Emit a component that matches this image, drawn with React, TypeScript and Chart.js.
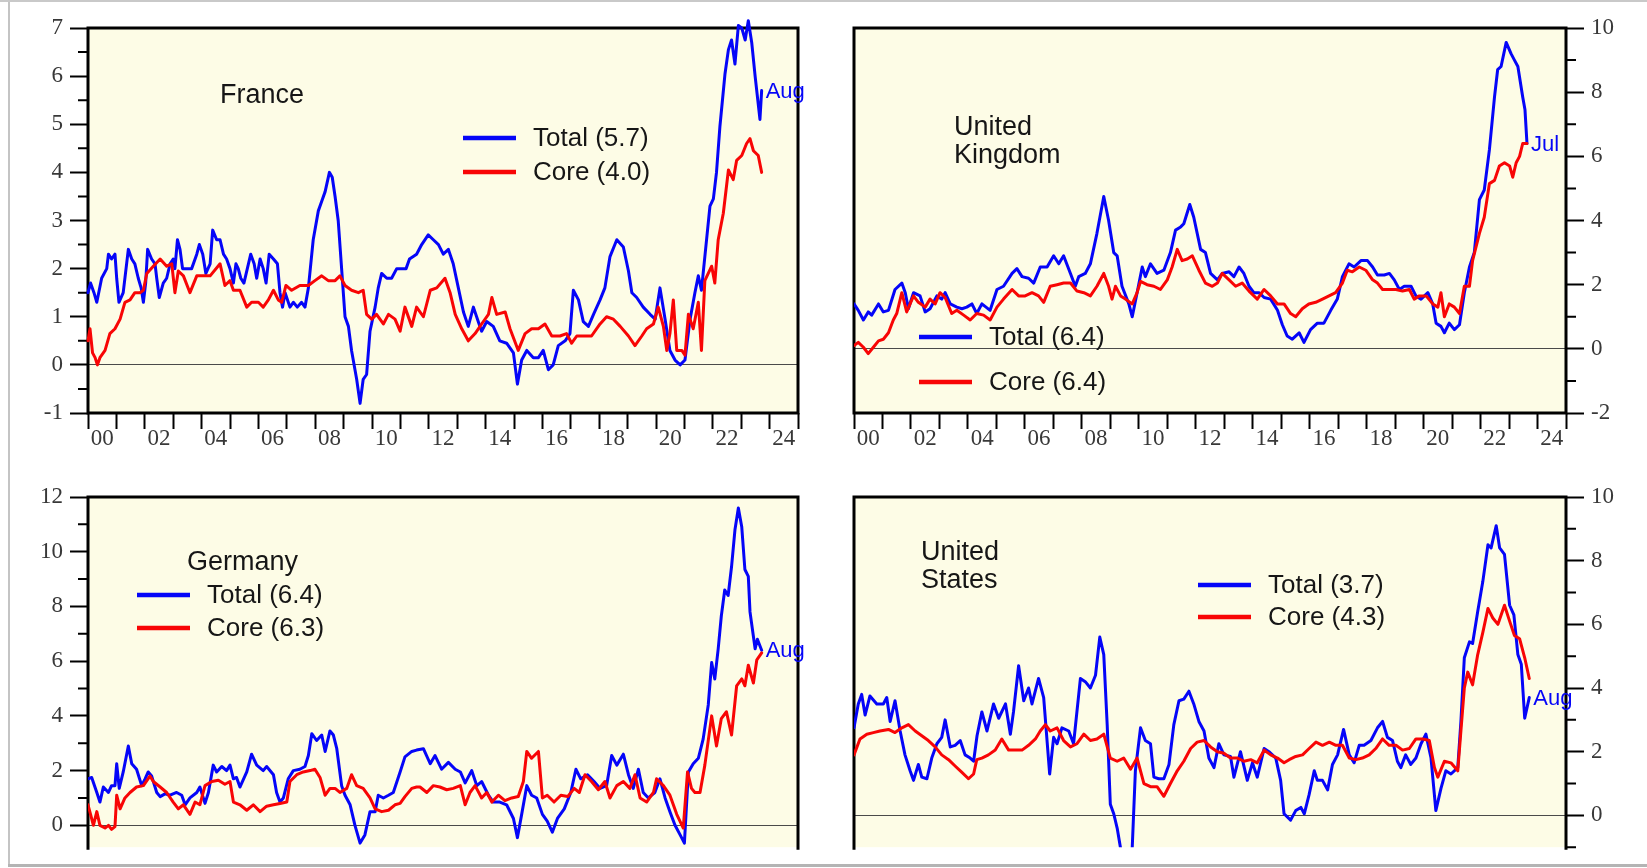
import { useEffect, useRef } from 'react';
import { Chart, registerables } from 'chart.js';

Chart.register(...registerables);

type Pt = [number, number];

// Year-start tick marks; even years carry a two-digit label
const YEAR_TICKS = [
  2000, 2001, 2002, 2003, 2004, 2005, 2006, 2007, 2008, 2009, 2010, 2011, 2012,
  2013, 2014, 2015, 2016, 2017, 2018, 2019, 2020, 2021, 2022, 2023, 2024, 2025,
];

const FR_Y_TICKS = [-1, 0, 1, 2, 3, 4, 5, 6, 7];
const FR_Y_MINOR = [-0.5, 0.5, 1.5, 2.5, 3.5, 4.5, 5.5, 6.5];
const UK_Y_TICKS = [-2, 0, 2, 4, 6, 8, 10];
const UK_Y_MINOR = [-1, 1, 3, 5, 7, 9];
const DE_Y_TICKS = [0, 2, 4, 6, 8, 10, 12];
const DE_Y_MINOR = [1, 3, 5, 7, 9, 11];
const US_Y_TICKS = [0, 2, 4, 6, 8, 10];
const US_Y_MINOR = [-1, 1, 3, 5, 7, 9];

// France, % y/y
const FR_TOTAL: Pt[] = [
  [2000.0, 1.5], [2000.09, 1.7], [2000.21, 1.5], [2000.31, 1.3], [2000.48, 1.8], [2000.66, 2.0], [2000.72, 2.3], [2000.83, 2.2],
  [2000.95, 2.3], [2001.01, 1.8], [2001.09, 1.3], [2001.24, 1.5], [2001.42, 2.4], [2001.54, 2.2], [2001.65, 2.1], [2001.77, 1.8],
  [2001.87, 1.6], [2001.95, 1.3], [2002.03, 1.7], [2002.1, 2.4], [2002.24, 2.2], [2002.36, 2.1], [2002.42, 1.8], [2002.51, 1.4],
  [2002.65, 1.7], [2002.77, 1.8], [2002.89, 2.1], [2003.0, 2.2], [2003.06, 2.0], [2003.15, 2.6], [2003.24, 2.4], [2003.33, 2.0],
  [2003.47, 2.0], [2003.65, 2.0], [2003.83, 2.3], [2003.92, 2.5], [2004.04, 2.3], [2004.15, 1.9], [2004.3, 2.1], [2004.39, 2.8],
  [2004.53, 2.6], [2004.65, 2.6], [2004.77, 2.3], [2004.88, 2.2], [2005.0, 2.0], [2005.12, 1.7], [2005.21, 2.1], [2005.29, 2.0],
  [2005.38, 1.8], [2005.49, 1.7], [2005.61, 2.0], [2005.73, 2.3], [2005.85, 2.1], [2005.94, 1.8], [2006.06, 2.2], [2006.17, 2.0],
  [2006.27, 1.7], [2006.38, 2.3], [2006.53, 2.2], [2006.67, 2.1], [2006.76, 1.5], [2006.85, 1.2], [2006.94, 1.5], [2007.11, 1.2],
  [2007.23, 1.3], [2007.37, 1.2], [2007.52, 1.3], [2007.64, 1.2], [2007.76, 1.6], [2007.93, 2.6], [2008.11, 3.2], [2008.23, 3.4],
  [2008.35, 3.6], [2008.5, 4.0], [2008.6, 3.9], [2008.7, 3.5], [2008.81, 3.0], [2008.93, 2.0], [2009.05, 1.0], [2009.17, 0.8],
  [2009.28, 0.3], [2009.46, -0.3], [2009.58, -0.8], [2009.69, -0.3], [2009.81, -0.2], [2009.93, 0.7], [2010.11, 1.2], [2010.22, 1.6],
  [2010.34, 1.9], [2010.52, 1.8], [2010.69, 1.8], [2010.87, 2.0], [2011.0, 2.0], [2011.2, 2.0], [2011.32, 2.2], [2011.57, 2.3],
  [2011.75, 2.5], [2011.98, 2.7], [2012.16, 2.6], [2012.34, 2.5], [2012.51, 2.3], [2012.69, 2.4], [2012.86, 2.1], [2013.04, 1.6],
  [2013.22, 1.1], [2013.39, 0.8], [2013.57, 1.2], [2013.74, 0.9], [2013.86, 0.7], [2014.04, 0.9], [2014.27, 0.8], [2014.5, 0.5],
  [2014.74, 0.45], [2014.98, 0.25], [2015.12, -0.4], [2015.27, 0.1], [2015.45, 0.3], [2015.68, 0.15], [2015.86, 0.15], [2016.03, 0.3],
  [2016.21, -0.1], [2016.38, 0.0], [2016.56, 0.4], [2016.8, 0.5], [2016.97, 0.65], [2017.09, 1.55], [2017.27, 1.35], [2017.44, 0.9],
  [2017.62, 0.8], [2017.8, 1.05], [2018.03, 1.35], [2018.2, 1.6], [2018.38, 2.25], [2018.62, 2.6], [2018.85, 2.45], [2019.03, 1.95],
  [2019.15, 1.5], [2019.32, 1.4], [2019.55, 1.2], [2019.79, 1.05], [2019.97, 0.95], [2020.14, 1.6], [2020.32, 0.95], [2020.49, 0.3],
  [2020.67, 0.1], [2020.85, 0.0], [2021.02, 0.1], [2021.2, 0.95], [2021.37, 1.5], [2021.49, 1.85], [2021.6, 1.55], [2021.72, 2.25],
  [2021.9, 3.3], [2022.02, 3.45], [2022.13, 4.0], [2022.25, 4.95], [2022.43, 6.05], [2022.55, 6.55], [2022.66, 6.75], [2022.78, 6.25],
  [2022.9, 7.05], [2023.02, 7.0], [2023.14, 6.75], [2023.25, 7.15], [2023.37, 6.7], [2023.49, 6.0], [2023.66, 5.1], [2023.72, 5.7],
];
const FR_CORE: Pt[] = [
  [2000.0, 0.5], [2000.07, 0.75], [2000.16, 0.25], [2000.25, 0.15], [2000.33, 0.0], [2000.42, 0.15], [2000.6, 0.3], [2000.77, 0.65],
  [2000.95, 0.75], [2001.13, 0.95], [2001.3, 1.3], [2001.48, 1.35], [2001.65, 1.5], [2001.83, 1.5], [2001.95, 1.55], [2002.07, 1.9],
  [2002.3, 2.05], [2002.54, 2.2], [2002.77, 2.05], [2002.95, 2.1], [2003.06, 1.5], [2003.18, 1.95], [2003.36, 1.85], [2003.59, 1.5],
  [2003.83, 1.85], [2004.06, 1.85], [2004.3, 1.85], [2004.65, 2.1], [2004.82, 1.65], [2005.0, 1.75], [2005.12, 1.55], [2005.35, 1.55],
  [2005.59, 1.2], [2005.76, 1.3], [2006.0, 1.3], [2006.17, 1.2], [2006.35, 1.35], [2006.53, 1.55], [2006.7, 1.35], [2006.82, 1.3],
  [2006.97, 1.65], [2007.17, 1.55], [2007.46, 1.65], [2007.76, 1.65], [2007.99, 1.75], [2008.23, 1.85], [2008.46, 1.75], [2008.7, 1.75],
  [2008.87, 1.85], [2009.05, 1.65], [2009.28, 1.55], [2009.52, 1.5], [2009.69, 1.55], [2009.81, 1.05], [2009.99, 0.95], [2010.16, 1.05],
  [2010.4, 0.85], [2010.58, 1.05], [2010.81, 0.95], [2010.99, 0.7], [2011.16, 1.2], [2011.4, 0.8], [2011.57, 1.2], [2011.81, 1.0],
  [2012.05, 1.55], [2012.28, 1.6], [2012.57, 1.8], [2012.75, 1.5], [2012.93, 1.05], [2013.16, 0.75], [2013.39, 0.5], [2013.63, 0.65],
  [2013.86, 0.85], [2014.1, 1.05], [2014.22, 1.4], [2014.39, 1.05], [2014.69, 1.1], [2014.86, 0.75], [2015.15, 0.3], [2015.39, 0.65],
  [2015.62, 0.75], [2015.86, 0.75], [2016.09, 0.85], [2016.33, 0.6], [2016.62, 0.6], [2016.85, 0.65], [2017.03, 0.45], [2017.21, 0.6],
  [2017.44, 0.6], [2017.73, 0.6], [2018.03, 0.85], [2018.26, 1.0], [2018.5, 0.95], [2018.74, 0.8], [2019.03, 0.6], [2019.26, 0.4],
  [2019.5, 0.6], [2019.67, 0.75], [2019.91, 0.85], [2020.08, 1.2], [2020.26, 0.8], [2020.38, 0.3], [2020.49, 0.65], [2020.61, 1.35],
  [2020.73, 0.3], [2020.91, 0.3], [2021.02, 0.2], [2021.14, 1.05], [2021.31, 0.75], [2021.49, 1.3], [2021.6, 0.3], [2021.72, 1.75],
  [2021.96, 2.05], [2022.07, 1.7], [2022.19, 2.6], [2022.37, 3.15], [2022.55, 4.05], [2022.72, 3.85], [2022.84, 4.25], [2023.02, 4.35],
  [2023.19, 4.6], [2023.31, 4.7], [2023.43, 4.45], [2023.6, 4.35], [2023.72, 4.0],
];

// United Kingdom, % y/y
const UK_TOTAL: Pt[] = [
  [2000.0, 1.4], [2000.15, 1.2], [2000.33, 0.9], [2000.5, 1.15], [2000.62, 1.05], [2000.86, 1.4], [2001.03, 1.15], [2001.21, 1.2],
  [2001.44, 1.85], [2001.68, 2.05], [2001.8, 1.75], [2001.91, 1.25], [2002.09, 1.75], [2002.32, 1.65], [2002.5, 1.15], [2002.67, 1.25],
  [2002.91, 1.65], [2003.08, 1.55], [2003.2, 1.75], [2003.38, 1.4], [2003.61, 1.3], [2003.79, 1.25], [2003.96, 1.3], [2004.14, 1.4],
  [2004.31, 1.1], [2004.49, 1.4], [2004.78, 1.2], [2005.02, 1.85], [2005.25, 1.95], [2005.55, 2.35], [2005.72, 2.5], [2005.9, 2.25],
  [2006.13, 2.2], [2006.31, 2.05], [2006.54, 2.55], [2006.78, 2.55], [2007.01, 2.9], [2007.19, 2.65], [2007.36, 2.9], [2007.6, 2.35],
  [2007.77, 1.95], [2007.89, 2.25], [2008.12, 2.35], [2008.3, 2.65], [2008.53, 3.6], [2008.77, 4.75], [2008.94, 4.0], [2009.12, 3.0],
  [2009.24, 2.9], [2009.41, 1.95], [2009.65, 1.4], [2009.77, 1.0], [2009.94, 1.75], [2010.12, 2.55], [2010.23, 2.25], [2010.41, 2.65],
  [2010.64, 2.35], [2010.88, 2.45], [2011.11, 3.0], [2011.29, 3.7], [2011.47, 3.8], [2011.58, 3.9], [2011.79, 4.5], [2011.93, 4.1],
  [2012.17, 3.1], [2012.34, 3.0], [2012.52, 2.35], [2012.76, 2.15], [2012.93, 2.35], [2013.17, 2.4], [2013.34, 2.25], [2013.52, 2.55],
  [2013.69, 2.35], [2013.87, 1.95], [2014.04, 1.75], [2014.22, 1.75], [2014.4, 1.6], [2014.63, 1.55], [2014.87, 1.2], [2015.04, 0.75],
  [2015.21, 0.4], [2015.39, 0.3], [2015.63, 0.5], [2015.8, 0.2], [2016.03, 0.6], [2016.27, 0.8], [2016.5, 0.8], [2016.74, 1.2],
  [2016.97, 1.55], [2017.15, 2.25], [2017.38, 2.65], [2017.56, 2.55], [2017.8, 2.75], [2018.03, 2.75], [2018.21, 2.55], [2018.38, 2.3],
  [2018.62, 2.3], [2018.8, 2.35], [2018.97, 2.15], [2019.15, 1.85], [2019.32, 1.95], [2019.56, 1.95], [2019.73, 1.65], [2019.91, 1.55],
  [2020.15, 1.75], [2020.32, 1.4], [2020.44, 0.8], [2020.61, 0.7], [2020.73, 0.5], [2020.9, 0.8], [2021.08, 0.6], [2021.26, 0.75],
  [2021.43, 1.75], [2021.61, 2.55], [2021.78, 3.0], [2021.96, 4.65], [2022.13, 4.95], [2022.31, 6.2], [2022.49, 7.85], [2022.6, 8.7],
  [2022.72, 8.8], [2022.9, 9.55], [2023.07, 9.2], [2023.19, 9.0], [2023.31, 8.8], [2023.48, 7.85], [2023.56, 7.45], [2023.63, 6.4],
];
const UK_CORE: Pt[] = [
  [2000.0, 0.1], [2000.15, 0.2], [2000.33, 0.05], [2000.5, -0.15], [2000.68, 0.05], [2000.86, 0.25], [2001.03, 0.3], [2001.21, 0.5],
  [2001.38, 0.9], [2001.5, 1.1], [2001.68, 1.75], [2001.85, 1.15], [2002.09, 1.65], [2002.26, 1.45], [2002.5, 1.3], [2002.67, 1.55],
  [2002.85, 1.4], [2003.02, 1.75], [2003.2, 1.6], [2003.43, 1.1], [2003.61, 1.2], [2003.85, 1.05], [2004.08, 0.9], [2004.31, 1.1],
  [2004.55, 1.05], [2004.78, 0.9], [2005.02, 1.3], [2005.25, 1.55], [2005.55, 1.85], [2005.78, 1.65], [2006.01, 1.65], [2006.25, 1.75],
  [2006.48, 1.65], [2006.66, 1.45], [2006.89, 1.95], [2007.13, 2.0], [2007.36, 2.05], [2007.6, 2.05], [2007.83, 1.8], [2008.07, 1.75],
  [2008.3, 1.65], [2008.53, 1.95], [2008.77, 2.35], [2008.94, 1.95], [2009.06, 1.55], [2009.18, 1.95], [2009.36, 1.65], [2009.53, 1.55],
  [2009.77, 1.4], [2009.94, 1.75], [2010.06, 2.1], [2010.29, 2.0], [2010.53, 1.95], [2010.76, 1.85], [2011.0, 2.15], [2011.17, 2.55],
  [2011.35, 3.1], [2011.52, 2.75], [2011.7, 2.8], [2011.88, 2.9], [2012.11, 2.45], [2012.34, 2.05], [2012.58, 1.95], [2012.76, 2.05],
  [2012.93, 2.35], [2013.17, 2.15], [2013.4, 1.95], [2013.63, 2.05], [2013.87, 1.8], [2014.16, 1.55], [2014.4, 1.85], [2014.63, 1.65],
  [2014.87, 1.4], [2015.1, 1.4], [2015.33, 1.1], [2015.51, 1.0], [2015.74, 1.25], [2015.97, 1.4], [2016.21, 1.45], [2016.45, 1.55],
  [2016.68, 1.65], [2016.91, 1.75], [2017.15, 2.05], [2017.32, 2.45], [2017.5, 2.4], [2017.74, 2.55], [2017.97, 2.45], [2018.21, 2.15],
  [2018.38, 2.05], [2018.56, 1.85], [2018.8, 1.85], [2019.03, 1.85], [2019.26, 1.8], [2019.5, 1.85], [2019.67, 1.55], [2019.85, 1.65],
  [2020.09, 1.65], [2020.32, 1.4], [2020.5, 1.3], [2020.61, 1.75], [2020.73, 1.0], [2020.9, 1.4], [2021.08, 1.3], [2021.26, 1.1],
  [2021.43, 1.95], [2021.61, 1.95], [2021.72, 2.75], [2021.96, 3.6], [2022.13, 4.1], [2022.31, 5.15], [2022.49, 5.25], [2022.66, 5.7],
  [2022.84, 5.8], [2023.02, 5.7], [2023.13, 5.35], [2023.25, 5.8], [2023.37, 6.0], [2023.48, 6.4], [2023.63, 6.4],
];

// Germany, % y/y
const DE_TOTAL: Pt[] = [
  [2000.0, 1.7], [2000.13, 1.75], [2000.31, 1.2], [2000.42, 0.85], [2000.54, 1.4], [2000.72, 1.2], [2000.83, 1.45], [2000.95, 1.45],
  [2001.01, 2.25], [2001.1, 1.35], [2001.24, 1.95], [2001.42, 2.9], [2001.54, 2.25], [2001.71, 2.05], [2001.89, 1.45], [2002.01, 1.7],
  [2002.12, 1.95], [2002.24, 1.8], [2002.42, 1.2], [2002.54, 1.05], [2002.71, 1.15], [2002.89, 1.1], [2003.12, 1.2], [2003.3, 1.1],
  [2003.42, 0.75], [2003.59, 1.0], [2003.83, 1.2], [2003.94, 1.4], [2004.12, 0.8], [2004.24, 1.2], [2004.41, 2.2], [2004.53, 1.95],
  [2004.71, 2.15], [2004.88, 2.0], [2005.0, 2.2], [2005.12, 1.7], [2005.23, 1.75], [2005.35, 1.4], [2005.59, 1.95], [2005.76, 2.6],
  [2005.94, 2.2], [2006.17, 2.0], [2006.29, 2.15], [2006.53, 1.85], [2006.64, 1.2], [2006.76, 0.85], [2006.88, 1.0], [2007.05, 1.7],
  [2007.23, 2.0], [2007.46, 2.05], [2007.64, 2.15], [2007.76, 2.55], [2007.88, 3.35], [2008.05, 3.1], [2008.23, 3.3], [2008.35, 2.7],
  [2008.52, 3.45], [2008.64, 3.3], [2008.76, 2.8], [2008.93, 1.45], [2009.05, 1.1], [2009.23, 0.75], [2009.4, 0.0], [2009.58, -0.65],
  [2009.75, -0.35], [2009.93, 0.5], [2010.11, 0.5], [2010.22, 1.1], [2010.4, 1.0], [2010.58, 1.1], [2010.75, 1.2], [2010.99, 1.95],
  [2011.16, 2.5], [2011.4, 2.7], [2011.57, 2.75], [2011.81, 2.8], [2012.05, 2.25], [2012.22, 2.55], [2012.45, 2.05], [2012.69, 2.3],
  [2012.93, 2.05], [2013.11, 1.95], [2013.28, 1.55], [2013.51, 2.0], [2013.69, 1.45], [2013.86, 1.6], [2014.1, 1.1], [2014.27, 0.85],
  [2014.5, 0.85], [2014.74, 0.75], [2014.98, 0.25], [2015.12, -0.45], [2015.27, 0.4], [2015.45, 1.45], [2015.62, 1.1], [2015.8, 1.0],
  [2016.0, 0.4], [2016.17, 0.15], [2016.35, -0.25], [2016.53, 0.25], [2016.77, 0.6], [2017.0, 1.2], [2017.18, 2.05], [2017.35, 1.7],
  [2017.59, 1.85], [2017.82, 1.6], [2018.03, 1.35], [2018.26, 1.45], [2018.44, 2.55], [2018.62, 2.2], [2018.85, 2.6], [2019.03, 1.85],
  [2019.2, 1.35], [2019.38, 2.05], [2019.55, 1.2], [2019.73, 1.0], [2019.96, 1.2], [2020.14, 1.7], [2020.32, 1.0], [2020.49, 0.5],
  [2020.67, 0.0], [2020.85, -0.35], [2021.0, -0.65], [2021.14, 1.95], [2021.31, 2.25], [2021.49, 2.45], [2021.66, 3.15], [2021.84, 4.4],
  [2021.96, 5.95], [2022.07, 5.35], [2022.19, 6.45], [2022.3, 7.65], [2022.42, 8.6], [2022.54, 8.4], [2022.66, 9.45], [2022.78, 10.8],
  [2022.9, 11.6], [2023.02, 10.9], [2023.13, 9.35], [2023.25, 9.1], [2023.31, 7.8], [2023.43, 6.9], [2023.49, 6.45], [2023.57, 6.8],
  [2023.72, 6.4],
];
const DE_CORE: Pt[] = [
  [2000.0, 0.75], [2000.09, 0.4], [2000.19, 0.0], [2000.31, 0.5], [2000.42, 0.0], [2000.6, -0.1], [2000.72, 0.0], [2000.83, -0.15],
  [2000.95, -0.05], [2001.01, 1.1], [2001.13, 0.6], [2001.3, 1.0], [2001.48, 1.2], [2001.71, 1.4], [2001.95, 1.45], [2002.18, 1.8],
  [2002.3, 1.6], [2002.54, 1.4], [2002.77, 1.2], [2003.0, 0.85], [2003.18, 0.6], [2003.36, 0.75], [2003.59, 0.4], [2003.77, 0.85],
  [2003.94, 0.75], [2004.12, 1.45], [2004.36, 1.6], [2004.59, 1.65], [2004.82, 1.5], [2005.0, 1.6], [2005.12, 0.85], [2005.35, 0.75],
  [2005.59, 0.55], [2005.82, 0.75], [2006.06, 0.5], [2006.29, 0.7], [2006.53, 0.75], [2006.76, 0.8], [2007.0, 0.85], [2007.11, 1.6],
  [2007.35, 1.85], [2007.58, 1.95], [2007.82, 2.0], [2007.99, 2.05], [2008.17, 1.75], [2008.35, 1.1], [2008.52, 1.35], [2008.7, 1.35],
  [2008.87, 1.2], [2009.11, 1.35], [2009.28, 1.85], [2009.46, 1.45], [2009.69, 1.35], [2009.93, 1.0], [2010.11, 0.6], [2010.34, 0.5],
  [2010.58, 0.55], [2010.81, 0.75], [2010.99, 0.8], [2011.16, 1.05], [2011.4, 1.35], [2011.57, 1.4], [2011.69, 1.4], [2011.93, 1.2],
  [2012.16, 1.45], [2012.39, 1.4], [2012.63, 1.3], [2012.86, 1.35], [2013.11, 1.45], [2013.28, 0.75], [2013.45, 1.2], [2013.63, 1.45],
  [2013.86, 1.0], [2014.04, 1.2], [2014.22, 0.85], [2014.45, 1.1], [2014.68, 0.9], [2014.92, 1.0], [2015.15, 1.05], [2015.33, 1.6],
  [2015.45, 2.7], [2015.62, 2.45], [2015.86, 2.7], [2016.0, 1.0], [2016.17, 1.1], [2016.41, 0.85], [2016.65, 1.1], [2016.89, 1.05],
  [2017.12, 1.35], [2017.3, 1.2], [2017.5, 1.85], [2017.73, 1.6], [2017.97, 1.3], [2018.2, 1.6], [2018.38, 1.0], [2018.62, 1.45],
  [2018.85, 1.6], [2019.08, 1.35], [2019.26, 1.85], [2019.44, 1.0], [2019.67, 0.85], [2019.91, 1.2], [2020.02, 1.7], [2020.26, 1.45],
  [2020.49, 1.1], [2020.73, 0.4], [2020.96, -0.1], [2021.11, 1.95], [2021.25, 1.35], [2021.37, 1.2], [2021.55, 1.2], [2021.72, 2.2],
  [2021.96, 4.0], [2022.13, 2.9], [2022.3, 3.9], [2022.48, 4.15], [2022.66, 3.3], [2022.84, 5.1], [2023.02, 5.35], [2023.13, 5.1],
  [2023.25, 5.85], [2023.43, 5.2], [2023.55, 6.05], [2023.72, 6.3],
];

// United States, % y/y
const US_TOTAL: Pt[] = [
  [2000.0, 2.75], [2000.15, 3.5], [2000.27, 3.8], [2000.39, 3.15], [2000.56, 3.75], [2000.8, 3.5], [2001.03, 3.5], [2001.15, 3.7],
  [2001.27, 2.95], [2001.44, 3.6], [2001.62, 2.65], [2001.79, 1.9], [2001.97, 1.4], [2002.09, 1.1], [2002.26, 1.6], [2002.38, 1.2],
  [2002.56, 1.15], [2002.73, 1.8], [2002.91, 2.25], [2003.08, 2.45], [2003.2, 3.0], [2003.38, 2.15], [2003.55, 2.2], [2003.73, 2.35],
  [2003.9, 1.9], [2004.08, 1.8], [2004.2, 1.7], [2004.32, 2.5], [2004.49, 3.25], [2004.67, 2.65], [2004.9, 3.5], [2005.08, 3.05],
  [2005.32, 3.5], [2005.49, 2.55], [2005.6, 3.25], [2005.78, 4.7], [2005.96, 3.6], [2006.13, 4.0], [2006.25, 3.5], [2006.48, 4.3],
  [2006.66, 3.7], [2006.87, 1.3], [2007.01, 2.45], [2007.13, 2.25], [2007.3, 2.75], [2007.54, 2.65], [2007.71, 2.25], [2007.95, 4.3],
  [2008.12, 4.2], [2008.3, 4.0], [2008.48, 4.4], [2008.63, 5.6], [2008.77, 5.05], [2008.89, 2.85], [2009.0, 0.35], [2009.12, 0.05],
  [2009.24, -0.4], [2009.41, -1.3], [2009.55, -2.0], [2009.68, -1.5], [2009.77, -1.0], [2009.88, 1.4], [2010.06, 2.75], [2010.23, 2.35],
  [2010.41, 2.25], [2010.53, 1.2], [2010.7, 1.15], [2010.88, 1.15], [2011.06, 1.6], [2011.23, 2.85], [2011.41, 3.6], [2011.58, 3.65],
  [2011.76, 3.9], [2011.93, 3.5], [2012.11, 2.95], [2012.29, 2.65], [2012.46, 1.8], [2012.64, 1.5], [2012.81, 2.25], [2012.99, 1.9],
  [2013.22, 1.85], [2013.34, 1.2], [2013.57, 2.0], [2013.81, 1.1], [2013.99, 1.65], [2014.16, 1.2], [2014.4, 2.1], [2014.57, 2.0],
  [2014.81, 1.8], [2014.98, 1.1], [2015.1, 0.05], [2015.33, -0.15], [2015.51, 0.15], [2015.69, 0.25], [2015.81, 0.05], [2015.98, 0.65],
  [2016.16, 1.4], [2016.27, 1.1], [2016.45, 1.1], [2016.63, 0.8], [2016.8, 1.6], [2016.98, 1.9], [2017.19, 2.7], [2017.39, 1.9],
  [2017.56, 1.65], [2017.74, 2.2], [2017.91, 2.2], [2018.15, 2.35], [2018.38, 2.75], [2018.56, 2.95], [2018.73, 2.45], [2018.91, 2.35],
  [2019.08, 1.7], [2019.2, 1.5], [2019.37, 1.9], [2019.55, 1.6], [2019.73, 1.8], [2019.91, 2.25], [2020.08, 2.55], [2020.26, 1.8],
  [2020.43, 0.15], [2020.61, 0.85], [2020.78, 1.4], [2020.96, 1.3], [2021.2, 1.5], [2021.31, 2.95], [2021.43, 4.95], [2021.61, 5.45],
  [2021.72, 5.4], [2021.9, 6.4], [2022.08, 7.35], [2022.26, 8.5], [2022.37, 8.4], [2022.55, 9.1], [2022.67, 8.4], [2022.84, 8.2],
  [2023.02, 6.6], [2023.17, 6.3], [2023.31, 5.05], [2023.43, 4.75], [2023.55, 3.05], [2023.71, 3.7],
];
const US_CORE: Pt[] = [
  [2000.0, 1.9], [2000.21, 2.4], [2000.45, 2.55], [2000.68, 2.6], [2000.91, 2.65], [2001.21, 2.7], [2001.44, 2.6], [2001.68, 2.75],
  [2001.91, 2.85], [2002.15, 2.65], [2002.38, 2.5], [2002.61, 2.35], [2002.85, 2.15], [2003.08, 1.9], [2003.32, 1.75], [2003.55, 1.55],
  [2003.79, 1.35], [2004.02, 1.15], [2004.2, 1.3], [2004.31, 1.75], [2004.49, 1.8], [2004.72, 1.9], [2004.96, 2.05], [2005.19, 2.4],
  [2005.43, 2.05], [2005.66, 2.05], [2005.9, 2.05], [2006.13, 2.2], [2006.37, 2.4], [2006.54, 2.65], [2006.72, 2.85], [2006.89, 2.65],
  [2007.13, 2.75], [2007.36, 2.35], [2007.6, 2.15], [2007.83, 2.25], [2008.07, 2.55], [2008.3, 2.35], [2008.53, 2.4], [2008.77, 2.55],
  [2009.0, 1.8], [2009.24, 1.7], [2009.47, 1.8], [2009.71, 1.45], [2009.94, 1.8], [2010.18, 1.0], [2010.41, 0.9], [2010.64, 0.9],
  [2010.88, 0.6], [2011.11, 1.0], [2011.35, 1.4], [2011.58, 1.7], [2011.82, 2.1], [2012.05, 2.3], [2012.29, 2.35], [2012.52, 2.15],
  [2012.76, 2.0], [2012.99, 1.95], [2013.22, 1.8], [2013.46, 1.8], [2013.69, 1.7], [2013.93, 1.75], [2014.16, 1.65], [2014.4, 2.05],
  [2014.63, 1.9], [2014.87, 1.8], [2015.1, 1.65], [2015.28, 1.75], [2015.51, 1.85], [2015.75, 1.9], [2015.98, 2.1], [2016.22, 2.3],
  [2016.45, 2.2], [2016.69, 2.3], [2016.92, 2.2], [2017.15, 2.2], [2017.39, 1.8], [2017.62, 1.75], [2017.85, 1.8], [2018.09, 1.9],
  [2018.32, 2.1], [2018.56, 2.4], [2018.79, 2.2], [2019.03, 2.2], [2019.26, 2.05], [2019.5, 2.1], [2019.73, 2.4], [2019.97, 2.4],
  [2020.2, 2.35], [2020.38, 1.5], [2020.5, 1.2], [2020.73, 1.7], [2020.96, 1.65], [2021.2, 1.4], [2021.31, 2.65], [2021.43, 4.0],
  [2021.55, 4.5], [2021.72, 4.1], [2021.9, 5.05], [2022.08, 5.75], [2022.26, 6.5], [2022.43, 6.2], [2022.61, 6.0], [2022.84, 6.6],
  [2023.02, 6.1], [2023.19, 5.65], [2023.37, 5.55], [2023.55, 4.95], [2023.71, 4.3],
];

const BLUE = '#0505f8';
const RED = '#f80505';
const PLOT_BG = '#fdfce6';
const TEXT = '#161616';
const TICK_TEXT = '#383838';
const ZERO_LINE = '#4a4a4a';
const SANS = '"Liberation Sans", Arial, Helvetica, sans-serif';
const SERIF = '"Liberation Serif", "Times New Roman", serif';
const TICK_FONT_SIZE = 23;
const Y_AXIS_W = 60;

interface PanelSpec {
  left: number;
  top: number;
  width: number;
  height: number;
  area: { left: number; top: number; right: number; bottom: number };
  side: 'left' | 'right';
  yMin: number;
  yMax: number;
  yTicks: number[];
  yMinor: number[];
  showX: boolean;
  openTop: boolean;
  title: string[];
  titleAt: [number, number];
  legendAt: [number, number];
  legendGap: number;
  total: Pt[];
  core: Pt[];
  lastMonth: string;
}

const PANELS: PanelSpec[] = [
  {
    left: 0, top: 0, width: 826, height: 452,
    area: { left: 88, top: 28, right: 798, bottom: 413 },
    side: 'left', yMin: -1, yMax: 7, yTicks: FR_Y_TICKS, yMinor: FR_Y_MINOR,
    showX: true, openTop: true,
    title: ['France'], titleAt: [132, 68],
    legendAt: [375, 110], legendGap: 34,
    total: FR_TOTAL, core: FR_CORE, lastMonth: 'Aug',
  },
  {
    left: 826, top: 0, width: 821, height: 452,
    area: { left: 28, top: 28, right: 740, bottom: 413 },
    side: 'right', yMin: -2, yMax: 10, yTicks: UK_Y_TICKS, yMinor: UK_Y_MINOR,
    showX: true, openTop: false,
    title: ['United', 'Kingdom'], titleAt: [100, 100],
    legendAt: [65, 309], legendGap: 45,
    total: UK_TOTAL, core: UK_CORE, lastMonth: 'Jul',
  },
  {
    left: 0, top: 452, width: 826, height: 416,
    area: { left: 88, top: 45, right: 798, bottom: 397 },
    side: 'left', yMin: -0.8, yMax: 12, yTicks: DE_Y_TICKS, yMinor: DE_Y_MINOR,
    showX: false, openTop: false,
    title: ['Germany'], titleAt: [99, 66],
    legendAt: [49, 98], legendGap: 33,
    total: DE_TOTAL, core: DE_CORE, lastMonth: 'Aug',
  },
  {
    left: 826, top: 452, width: 821, height: 416,
    area: { left: 28, top: 45, right: 740, bottom: 397 },
    side: 'right', yMin: -1, yMax: 10, yTicks: US_Y_TICKS, yMinor: US_Y_MINOR,
    showX: false, openTop: false,
    title: ['United', 'States'], titleAt: [67, 56],
    legendAt: [344, 88], legendGap: 32,
    total: US_TOTAL, core: US_CORE, lastMonth: 'Aug',
  },
];

const lastValue = (s: Pt[]) => s[s.length - 1][1];

function decorPlugin(spec: PanelSpec) {
  return {
    id: 'panelDecor',
    beforeDraw(chart: any) {
      const { ctx, chartArea: a } = chart;
      ctx.save();
      ctx.fillStyle = PLOT_BG;
      ctx.fillRect(a.left, a.top, a.right - a.left, a.bottom - a.top);
      ctx.restore();
    },
    beforeDatasetsDraw(chart: any) {
      const { ctx, chartArea: a } = chart;
      const y = chart.scales.y;
      ctx.save();
      // heavy frame round the plotting area
      ctx.strokeStyle = '#000';
      ctx.lineWidth = 3;
      ctx.lineCap = 'square';
      ctx.beginPath();
      ctx.moveTo(a.left, spec.showX ? a.bottom : a.bottom + 1);
      ctx.lineTo(a.left, a.top);
      ctx.lineTo(a.right, a.top);
      ctx.lineTo(a.right, spec.showX ? a.bottom : a.bottom + 1);
      if (spec.showX) ctx.closePath();
      ctx.stroke();
      // half-step minor ticks on the value axis
      ctx.lineWidth = 2;
      ctx.lineCap = 'butt';
      ctx.beginPath();
      for (const v of spec.yMinor) {
        const py = y.getPixelForValue(v);
        if (spec.side === 'left') {
          ctx.moveTo(a.left - 10, py);
          ctx.lineTo(a.left, py);
        } else {
          ctx.moveTo(a.right, py);
          ctx.lineTo(a.right + 10, py);
        }
      }
      ctx.stroke();
      ctx.restore();
    },
    afterDatasetsDraw(chart: any) {
      const { ctx, chartArea: a } = chart;
      const xs = chart.scales.x;
      const ys = chart.scales.y;
      ctx.save();
      ctx.textAlign = 'left';
      ctx.textBaseline = 'middle';
      // country name
      ctx.fillStyle = TEXT;
      ctx.font = `27px ${SANS}`;
      spec.title.forEach((line, i) => {
        ctx.fillText(line, a.left + spec.titleAt[0], a.top + spec.titleAt[1] + i * 28);
      });
      // legend
      const rows = [
        { name: 'Total', color: BLUE, series: spec.total },
        { name: 'Core', color: RED, series: spec.core },
      ];
      rows.forEach((r, i) => {
        const lx = a.left + spec.legendAt[0];
        const ly = a.top + spec.legendAt[1] + i * spec.legendGap;
        ctx.strokeStyle = r.color;
        ctx.lineWidth = 4.5;
        ctx.beginPath();
        ctx.moveTo(lx, ly);
        ctx.lineTo(lx + 53, ly);
        ctx.stroke();
        ctx.fillStyle = TEXT;
        ctx.font = `26px ${SANS}`;
        ctx.fillText(`${r.name} (${lastValue(r.series).toFixed(1)})`, lx + 70, ly + 1);
      });
      // latest month tag at the end of the total line
      const [lx, lv] = spec.total[spec.total.length - 1];
      ctx.fillStyle = BLUE;
      ctx.font = `22px ${SANS}`;
      ctx.fillText(spec.lastMonth, xs.getPixelForValue(lx) + 4, ys.getPixelForValue(lv) + 1);
      ctx.restore();
    },
  };
}

function buildConfig(spec: PanelSpec): any {
  const a = spec.area;
  const halfYear = (a.right - a.left) / (YEAR_TICKS.length - 1) / 2;
  const padding =
    spec.side === 'left'
      ? { left: a.left - Y_AXIS_W, right: spec.width - a.right }
      : { left: a.left, right: spec.width - a.right - Y_AXIS_W };
  const lineStyle = {
    pointRadius: 0,
    borderWidth: 3,
    tension: 0,
    borderJoinStyle: 'round',
    borderCapStyle: 'round',
    clip: spec.openTop ? { left: 2, top: false, right: 2, bottom: 2 } : undefined,
  };
  const xAxis: any = {
    type: 'linear',
    min: YEAR_TICKS[0],
    max: YEAR_TICKS[YEAR_TICKS.length - 1],
    display: spec.showX,
    afterBuildTicks: (s: any) => {
      s.ticks = YEAR_TICKS.map((v) => ({ value: v }));
    },
    grid: {
      drawOnChartArea: false,
      drawTicks: true,
      tickLength: 16,
      tickWidth: 2,
      tickColor: '#000',
      color: '#000',
    },
    border: { display: false },
    ticks: {
      autoSkip: false,
      maxRotation: 0,
      minRotation: 0,
      labelOffset: halfYear,
      padding: -4,
      color: TICK_TEXT,
      font: { family: SERIF, size: TICK_FONT_SIZE },
      callback: (v: number) => (v % 2 === 0 && v < 2025 ? String(v).slice(2) : ''),
    },
  };
  if (spec.showX) {
    xAxis.afterFit = (s: any) => {
      s.height = spec.height - a.bottom;
    };
  }
  return {
    type: 'line',
    data: {
      datasets: [
        { label: 'Total', data: spec.total.map(([x, y]) => ({ x, y })), borderColor: BLUE, order: 2, ...lineStyle },
        { label: 'Core', data: spec.core.map(([x, y]) => ({ x, y })), borderColor: RED, order: 1, ...lineStyle },
      ],
    },
    options: {
      responsive: false,
      maintainAspectRatio: false,
      animation: false,
      devicePixelRatio: 1,
      events: [],
      layout: {
        padding: {
          ...padding,
          top: a.top,
          bottom: spec.showX ? 0 : spec.height - a.bottom,
        },
      },
      plugins: { legend: { display: false }, tooltip: { enabled: false } },
      scales: {
        x: xAxis,
        y: {
          type: 'linear',
          position: spec.side,
          min: spec.yMin,
          max: spec.yMax,
          afterBuildTicks: (s: any) => {
            s.ticks = spec.yTicks.map((v) => ({ value: v }));
          },
          afterFit: (s: any) => {
            s.width = Y_AXIS_W;
          },
          grid: {
            drawOnChartArea: true,
            color: (c: any) => (c.tick && c.tick.value === 0 ? ZERO_LINE : 'rgba(0,0,0,0)'),
            lineWidth: 1,
            drawTicks: true,
            tickLength: 18,
            tickWidth: 2,
            tickColor: '#000',
          },
          border: { display: false },
          ticks: {
            padding: 7,
            color: TICK_TEXT,
            font: { family: SERIF, size: TICK_FONT_SIZE },
            callback: (v: number) => String(v),
          },
        },
      },
    },
    plugins: [decorPlugin(spec)],
  };
}

function Panel({ spec }: { spec: PanelSpec }) {
  const ref = useRef<HTMLCanvasElement>(null);
  useEffect(() => {
    if (!ref.current) return;
    const chart = new Chart(ref.current, buildConfig(spec));
    return () => chart.destroy();
  }, [spec]);
  return (
    <canvas
      ref={ref}
      width={spec.width}
      height={spec.height}
      style={{ position: 'absolute', left: spec.left, top: spec.top, width: spec.width, height: spec.height }}
    />
  );
}

export default function App() {
  return (
    <div
      style={{
        position: 'absolute',
        left: 0,
        top: 0,
        width: 1647,
        height: 868,
        background: '#fff',
        overflow: 'hidden',
      }}
    >
      <div style={{ position: 'absolute', left: 0, top: 0, width: 1647, height: 2, background: '#c9c9c9' }} />
      <div style={{ position: 'absolute', left: 8, top: 2, width: 2, height: 863, background: '#c4c4c4' }} />
      <div style={{ position: 'absolute', left: 8, top: 864, width: 1639, height: 3, background: '#b4b4b4' }} />
      {PANELS.map((p, i) => (
        <Panel key={i} spec={p} />
      ))}
    </div>
  );
}
